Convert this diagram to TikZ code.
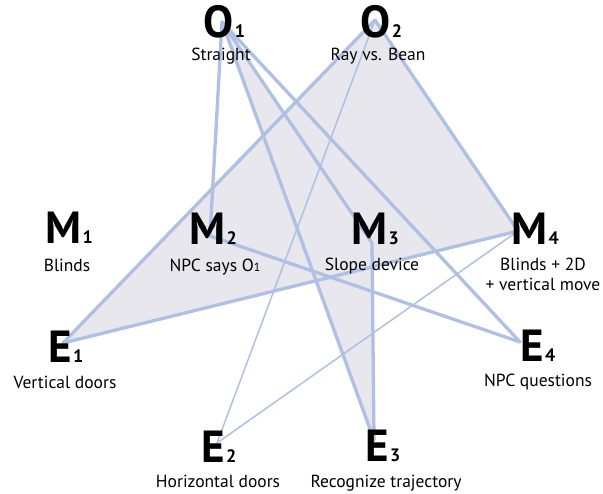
\documentclass[tikz,border=0pt]{standalone}
\usepackage{fontspec}
\setmainfont{PT Sans}
\definecolor{edgeblue}{RGB}{174,192,228}
\definecolor{facegray}{RGB}{231,231,237}
\newcommand{\idx}[1]{\kern1.5pt{\fontsize{18}{18}\selectfont #1}}

\begin{document}
\begin{tikzpicture}[x=1pt,y=-1pt,
	link/.style={edgeblue,line width=3.3pt,line cap=round},
	thinlink/.style={edgeblue,line width=1.5pt,line cap=round},
	letter/.style={anchor=base west,inner sep=0pt,font=\fontsize{45}{45}\selectfont\bfseries},
	caption/.style={anchor=base,inner sep=0pt,align=center,font=\fontsize{17.5}{20}\selectfont}]
	\useasboundingbox (0,0) rectangle (603,494);

	% end points of the connectors
	\coordinate (O1) at (222,22);
	\coordinate (O2) at (375,20);
	\coordinate (M2) at (210,236);
	\coordinate (M3) at (372,243);
	\coordinate (M4) at (518,231);
	\coordinate (E1) at (63,343);
	\coordinate (E2) at (217,443);
	\coordinate (E3) at (374,440);
	\coordinate (E4) at (520,342);

	\fill[facegray] (O2)--(M4)--(E1)--cycle;
	\fill[facegray] (O1)--(M3)--(E3)--cycle;

	\draw[link] (O1)--(M2);
	\draw[link] (O1)--(M3);
	\draw[link] (O1)--(E3);
	\draw[link] (O1)--(E4);
	\draw[link] (O2)--(E1);
	\draw[link] (O2)--(M4);
	\draw[link] (M2)--(E4);
	\draw[link] (M3)--(E3);
	\draw[link] (M4)--(E1);
	\draw[thinlink] (O2)--(E2);
	\draw[thinlink] (M4)--(E2);

	\node[letter] (o1) at (203,38) {O\idx{1}};
	\node[letter] (o2) at (360,38) {O\idx{2}};
	\node[letter] (m1) at (45,244) {M\idx{1}};
	\node[letter] (m2) at (189,245) {M\idx{2}};
	\node[letter] (m3) at (351,245) {M\idx{3}};
	\node[letter] (m4) at (511,245) {M\idx{4}};
	\node[letter] (e1) at (48,363) {E\idx{1}};
	\node[letter] (e2) at (201,463) {E\idx{2}};
	\node[letter] (e3) at (365,462) {E\idx{3}};
	\node[letter] (e4) at (520,362) {E\idx{4}};

	\node[caption] (straight) at (221,61) {Straight};
	\node[caption] (raybean) at (378,61) {Ray vs. Bean};
	\node[caption] (blinds) at (67,272) {Blinds};
	\node[caption] (npcsays) at (215,272) {NPC says O{\fontsize{12}{12}\selectfont 1}};
	\node[caption] (slope) at (372,271) {Slope device};
	\node[caption] (blinds2d) at (543,291) {Blinds + 2D\\+ vertical move};
	\node[caption] (vdoors) at (65,389) {Vertical doors};
	\node[caption] (npcq) at (538,387) {NPC questions};
	\node[caption] (hdoors) at (218,487) {Horizontal doors};
	\node[caption] (trajectory) at (386,487) {Recognize trajectory};
\end{tikzpicture}
\end{document}
